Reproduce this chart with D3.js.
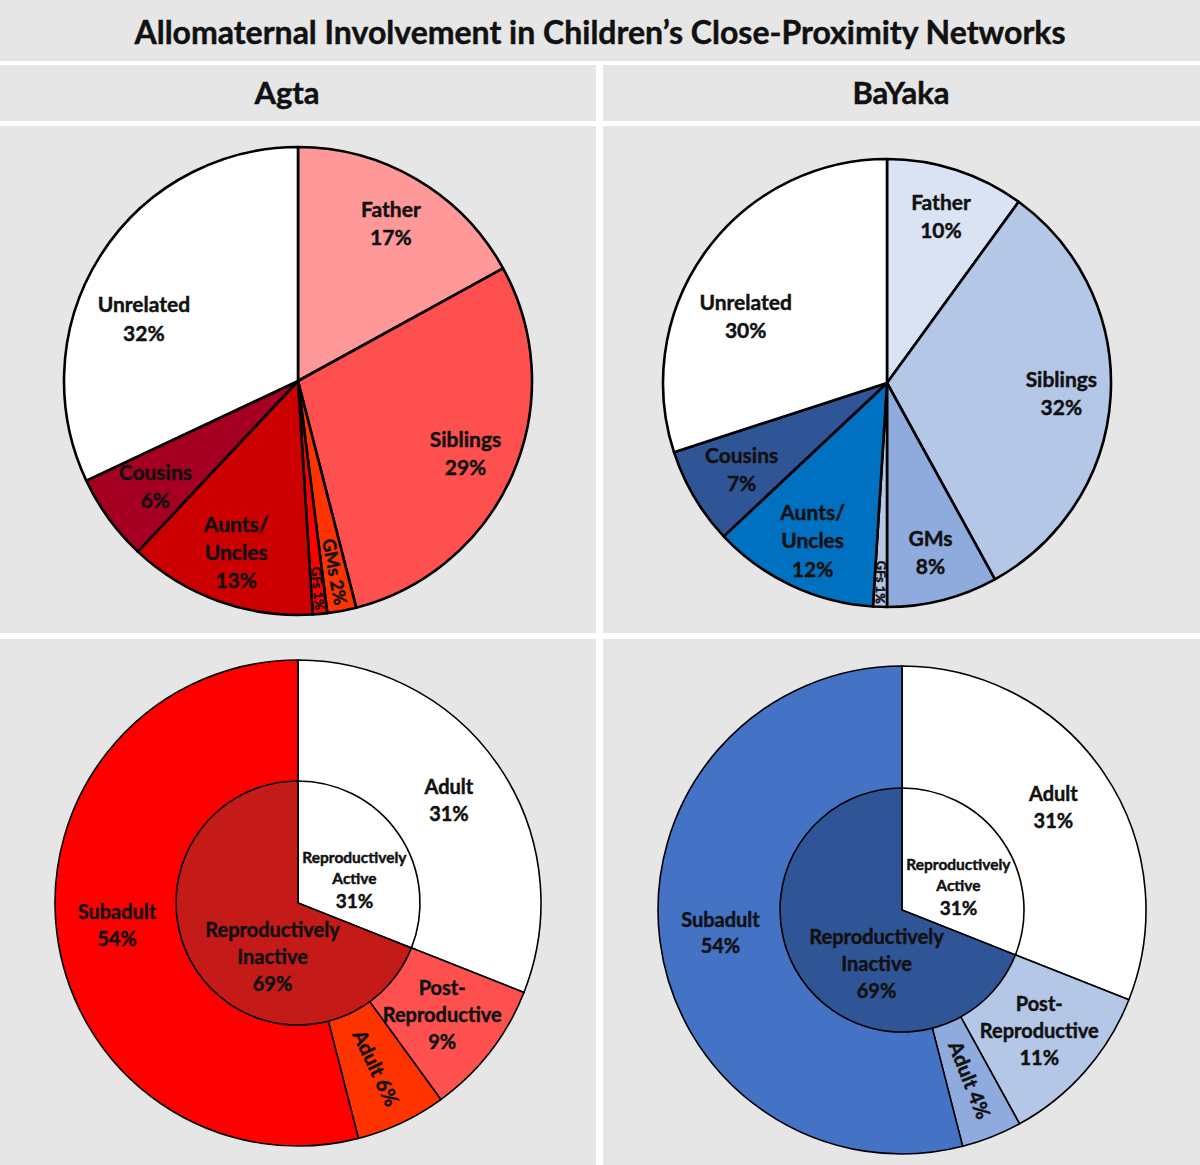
<!DOCTYPE html>
<html>
<head>
<meta charset="utf-8">
<script src="https://cdn.jsdelivr.net/npm/d3@7"></script>
<style>
  html, body { margin: 0; padding: 0; background: #fff; }
  svg text { font-family: Lato, 'Open Sans', sans-serif; font-weight: bold; fill: #111; stroke: #111; stroke-width: 0.45px; }
</style>
</head>
<body>
<div id="chart"></div>
<script>
// --- data ---
const chartTitle = 'Allomaternal Involvement in Children\u2019s Close-Proximity Networks';
const groups = ['Agta', 'BaYaka'];

const kinCategories = ['Father', 'Siblings', 'GMs', 'GFs', 'Aunts/ Uncles', 'Cousins', 'Unrelated'];
const agtaKin = [17, 29, 2, 1, 13, 6, 32];
const bayakaKin = [10, 32, 8, 1, 12, 7, 30];

const ageCategories = ['Adult', 'Post-Reproductive', 'Adult', 'Subadult'];
const agtaAge = [31, 9, 6, 54];
const bayakaAge = [31, 11, 4, 54];

const reproCategories = ['Reproductively Active', 'Reproductively Inactive'];
const agtaRepro = [31, 69];
const bayakaRepro = [31, 69];

// --- colours ---
const agtaKinColors = ['#ff9999', '#ff5050', '#ff3300', '#ff0000', '#cc0000', '#a50021', '#ffffff'];
const bayakaKinColors = ['#dae3f3', '#b4c7e7', '#8faadc', '#b4c7e7', '#0070c0', '#2f5597', '#ffffff'];
const agtaAgeColors = ['#ffffff', '#ff5050', '#ff3300', '#ff0000'];
const bayakaAgeColors = ['#ffffff', '#b4c7e7', '#8faadc', '#4472c4'];
const agtaReproColors = ['#ffffff', '#c41b18'];
const bayakaReproColors = ['#ffffff', '#2f5597'];

const W = 1200, H = 1165;
const panelBg = '#e7e6e6';

const svg = d3.select('#chart').append('svg')
  .attr('width', W).attr('height', H)
  .style('display', 'block');

svg.append('rect').attr('width', W).attr('height', H).attr('fill', '#fff');

// background panels
const panels = [
  [0, 0, 1200, 61],
  [0, 65, 596, 56], [603, 65, 597, 56],
  [0, 126, 596, 507], [603, 126, 597, 507],
  [0, 639, 596, 526], [603, 639, 597, 526]
];
svg.append('g').selectAll('rect')
  .data(panels)
  .join('rect')
  .attr('x', d => d[0]).attr('y', d => d[1])
  .attr('width', d => d[2]).attr('height', d => d[3])
  .attr('fill', panelBg);

svg.append('text')
  .attr('x', 600).attr('y', 33)
  .attr('text-anchor', 'middle').attr('dy', '0.35em')
  .style('font-size', '32px')
  .text(chartTitle);

svg.append('g').selectAll('text')
  .data(groups)
  .join('text')
  .attr('x', (d, i) => i === 0 ? 287 : 901)
  .attr('y', 93)
  .attr('text-anchor', 'middle').attr('dy', '0.35em')
  .style('font-size', '31px')
  .text(d => d);

const pie = d3.pie().sort(null).value(d => d.value);

function pctLines(name, value, size) {
  const parts = name.split(' ');
  let words;
  if (name === 'Aunts/ Uncles') words = ['Aunts/', 'Uncles'];
  else if (name === 'Post-Reproductive') words = ['Post-', 'Reproductive'];
  else if (name.startsWith('Reproductively')) words = parts;
  else words = [name];
  return words.map(w => ({ text: w, size: size })).concat([{ text: value + '%', size: size }]);
}

function drawLines(g, x, y, lines) {
  const gaps = [];
  let total = 0;
  for (let i = 1; i < lines.length; i++) {
    const gp = 1.34 * (lines[i - 1].size + lines[i].size) / 2;
    gaps.push(gp);
    total += gp;
  }
  const t = g.append('text').attr('text-anchor', 'middle');
  let cy = y - total / 2;
  lines.forEach((ln, i) => {
    if (i > 0) cy += gaps[i - 1];
    t.append('tspan')
      .attr('x', x).attr('y', cy).attr('dy', '0.35em')
      .style('font-size', ln.size + 'px')
      .text(ln.text);
  });
}

function drawRotated(g, x, y, angle, text, size) {
  g.append('text')
    .attr('transform', `translate(${x},${y}) rotate(${angle * 180 / Math.PI - 90})`)
    .attr('text-anchor', 'middle').attr('dy', '0.35em')
    .style('font-size', size + 'px')
    .text(text);
}

const labelNudge = {
  'Unrelated': [0, 36],
  'Cousins': [5, -2],
  'Reproductively Active': [6, 11],
  'Reproductively Inactive': [25, 20]
};

// top: kin pies
function kinPie(cx, cy, r, values, colors) {
  const data = kinCategories.map((c, i) => ({ name: c, value: values[i], color: colors[i] }));
  const g = svg.append('g').attr('transform', `translate(${cx},${cy})`);
  const arcs = pie(data);
  const arc = d3.arc().innerRadius(0).outerRadius(r);
  g.selectAll('path')
    .data(arcs)
    .join('path')
    .attr('d', arc)
    .attr('fill', d => d.data.color)
    .attr('stroke', '#000')
    .attr('stroke-width', 2.6)
    .attr('stroke-linejoin', 'round');

  arcs.forEach(a => {
    const mid = (a.startAngle + a.endAngle) / 2;
    const v = a.data.value;
    if (v < 3) {
      const rr = r * (v < 2 ? 0.89 : 0.83);
      drawRotated(g, rr * Math.sin(mid), -rr * Math.cos(mid), mid,
        a.data.name + ' ' + v + '%', v < 2 ? 13 : 18);
    } else {
      const rr = r * 0.78;
      const nd = labelNudge[a.data.name] || [0, 0];
      drawLines(g, rr * Math.sin(mid) + nd[0], -rr * Math.cos(mid) + nd[1], pctLines(a.data.name, v, 21));
    }
  });
}

// bottom: age ring + reproductive pie
function agePie(cx, cy, rOuter, rInner, ageValues, ageColors, reproValues, reproColors) {
  const g = svg.append('g').attr('transform', `translate(${cx},${cy})`);
  const outer = pie(ageCategories.map((c, i) => ({ name: c, value: ageValues[i], color: ageColors[i] })));
  const inner = pie(reproCategories.map((c, i) => ({ name: c, value: reproValues[i], color: reproColors[i] })));
  const arcOuter = d3.arc().innerRadius(0).outerRadius(rOuter);
  const arcInner = d3.arc().innerRadius(0).outerRadius(rInner);
  const ringMid = d3.arc().innerRadius(rInner).outerRadius(rOuter);

  g.append('g').selectAll('path')
    .data(outer)
    .join('path')
    .attr('d', arcOuter)
    .attr('fill', d => d.data.color)
    .attr('stroke', '#000')
    .attr('stroke-width', 1.6);

  g.append('g').selectAll('path')
    .data(inner)
    .join('path')
    .attr('d', arcInner)
    .attr('fill', d => d.data.color)
    .attr('stroke', '#000')
    .attr('stroke-width', 1.6);

  outer.forEach(a => {
    const mid = (a.startAngle + a.endAngle) / 2;
    const [x, y] = ringMid.centroid(a);
    const v = a.data.value;
    if (v < 8) drawRotated(g, x, y, mid, a.data.name + ' ' + v + '%', 20);
    else drawLines(g, x, y, pctLines(a.data.name, v, 20));
  });

  inner.forEach(a => {
    const [x, y] = arcInner.centroid(a);
    const nd = labelNudge[a.data.name] || [0, 0];
    const lines = pctLines(a.data.name, a.data.value, 20);
    if (a.index === 0) lines.forEach((ln, i) => { ln.size = i < lines.length - 1 ? 15.5 : 19; });
    drawLines(g, x + nd[0], y + nd[1], lines);
  });
}

kinPie(298, 381, 234, agtaKin, agtaKinColors);
kinPie(887, 383, 224, bayakaKin, bayakaKinColors);
agePie(298, 903, 243, 122, agtaAge, agtaAgeColors, agtaRepro, agtaReproColors);
agePie(902, 910, 244, 122, bayakaAge, bayakaAgeColors, bayakaRepro, bayakaReproColors);
</script>
</body>
</html>
